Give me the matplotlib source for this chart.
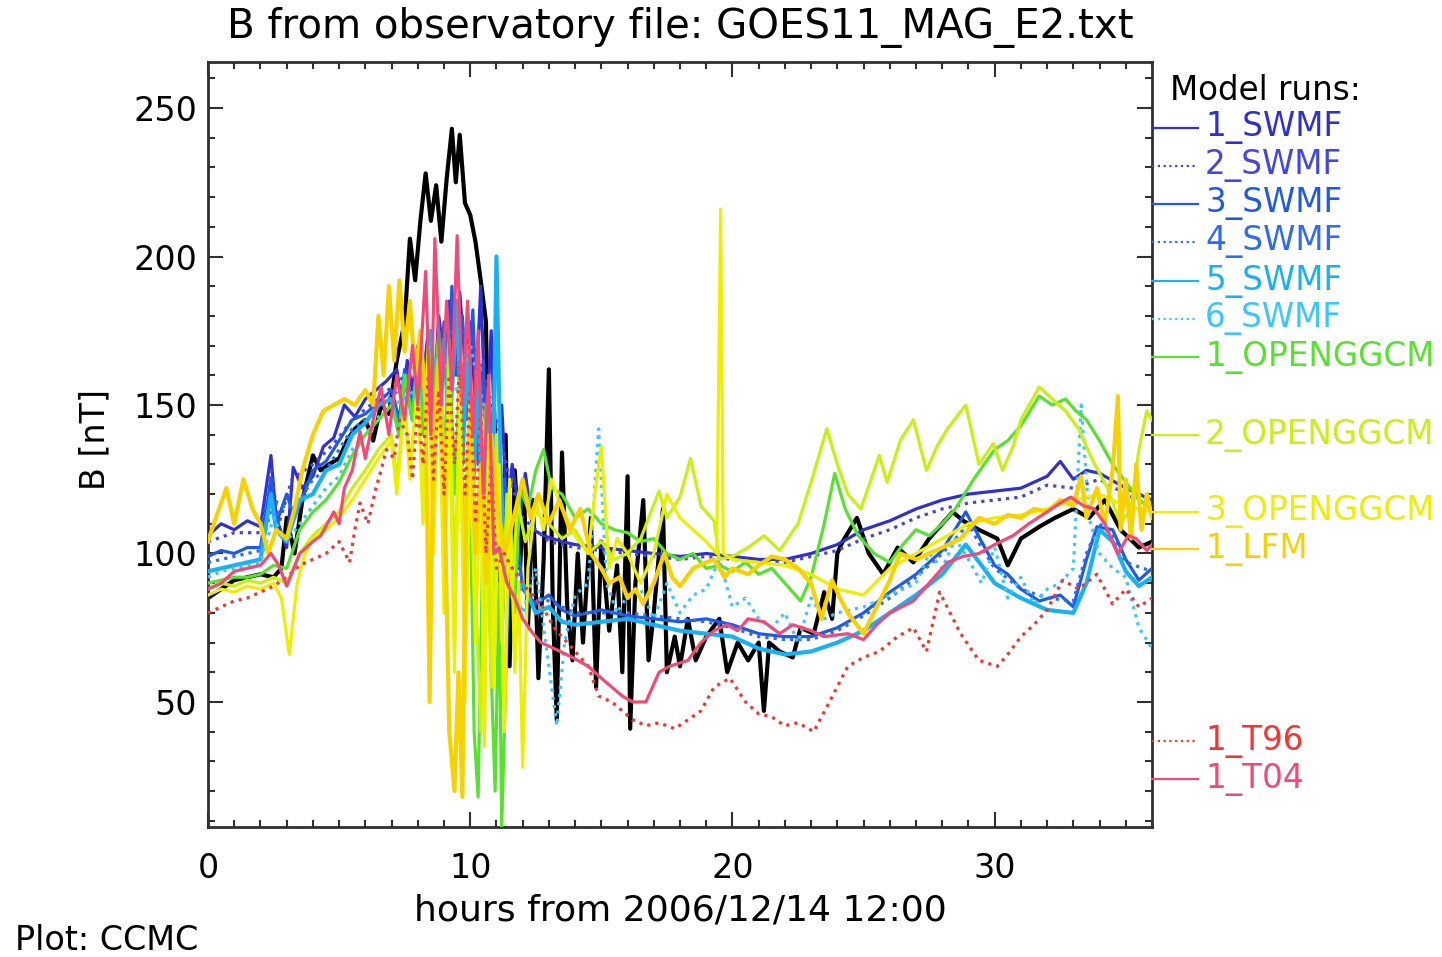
"""
GOES11 |B| vs model runs, 2006/12/14 storm (CCMC-style plot).
"""

import matplotlib
matplotlib.use("Agg")
import matplotlib.pyplot as plt
from matplotlib.lines import Line2D
from matplotlib.ticker import MultipleLocator

plt.rcParams.update({
    "font.family": ["DejaVu Sans"],
    "xtick.direction": "in",
    "ytick.direction": "in",
})

# ---- data: (hours, B [nT]) ----
OBS = [(0, 85), (0.5, 88), (1, 91), (1.5, 92), (2, 93), (2.5, 92), (2.8, 95), (3.0, 112), (3.3, 100),
       (3.6, 118), (4.0, 133), (4.3, 128), (4.6, 130), (5.0, 132), (5.3, 138), (5.6, 142), (6.0, 145),
       (6.3, 138), (6.6, 150), (6.9, 147), (7.2, 165), (7.5, 178), (7.7, 206), (7.9, 192), (8.1, 212),
       (8.3, 228), (8.5, 212), (8.7, 224), (8.9, 205), (9.1, 226), (9.3, 243), (9.45, 225), (9.6, 241),
       (9.8, 218), (10.0, 214), (10.2, 205), (10.4, 192), (10.6, 178), (10.75, 92), (10.9, 150),
       (11.05, 118), (11.2, 72), (11.35, 140), (11.5, 62), (11.7, 128), (11.9, 95), (12.05, 122),
       (12.2, 75), (12.4, 118), (12.6, 58), (12.8, 98), (13.0, 162), (13.15, 82), (13.3, 44), (13.5, 134),
       (13.7, 82), (13.9, 64), (14.1, 100), (14.3, 70), (14.6, 112), (14.8, 55), (15.0, 104), (15.3, 74),
       (15.6, 96), (15.8, 60), (16.0, 126), (16.1, 41), (16.3, 90), (16.6, 118), (16.8, 64), (17.0, 80),
       (17.35, 115), (17.5, 60), (17.8, 72), (18.0, 62), (18.3, 78), (18.6, 64), (19.0, 72), (19.5, 78),
       (19.8, 60), (20.2, 70), (20.6, 64), (21.0, 70), (21.2, 47), (21.4, 70), (21.8, 67), (22.3, 65),
       (22.6, 75), (23.1, 73), (23.5, 87), (23.8, 78), (24.0, 100), (24.2, 104), (24.75, 112), (25.2, 100),
       (25.75, 93), (26.3, 102), (26.9, 97), (27.5, 105), (28.0, 110), (28.4, 114), (28.8, 111),
       (29.4, 108), (30.1, 105), (30.5, 96), (31.0, 105), (31.7, 109), (32.3, 112), (33.0, 115),
       (33.6, 112), (34.2, 118), (34.8, 108), (35.5, 102), (36, 104)]

SWMF1 = [(0, 106), (0.5, 110), (1, 108), (1.5, 111), (2, 109), (2.4, 133), (2.6, 112), (3.0, 102),
         (3.25, 129), (3.6, 122), (4.0, 126), (4.4, 136), (4.8, 139), (5.2, 150), (5.6, 146), (6.0, 152),
         (6.4, 155), (6.8, 158), (7.2, 162), (7.4, 150), (7.6, 165), (7.8, 155), (8.0, 170), (8.2, 158),
         (8.4, 175), (8.6, 150), (8.8, 180), (9.0, 165), (9.2, 185), (9.4, 160), (9.6, 188), (9.8, 165),
         (10.0, 178), (10.2, 150), (10.4, 190), (10.6, 140), (10.8, 175), (11.0, 120), (11.2, 150),
         (11.4, 115), (11.6, 130), (11.9, 112), (12.1, 127), (12.4, 108), (12.8, 106), (13.5, 104),
         (14, 103), (15, 102), (16, 101), (17, 100), (18, 99), (19, 100), (20, 99), (21, 98), (22, 98),
         (23, 100), (24, 103), (25, 108), (26, 111), (27, 115), (28, 118), (29, 120), (30, 121),
         (31, 122), (32, 126), (32.5, 131), (33, 125), (33.5, 128), (34, 127), (35, 122), (36, 118)]

SWMF2 = [(0, 104), (1, 107), (2, 107), (2.4, 128), (2.7, 110), (3.2, 125), (4, 130), (4.8, 137),
         (5.5, 145), (6.2, 150), (7, 156), (7.8, 162), (8.4, 168), (9, 172), (9.5, 180), (10, 175),
         (10.5, 160), (11, 145), (11.5, 125), (12, 112), (13, 104), (14, 102), (15, 101), (16, 100),
         (17, 99), (18, 98), (19, 99), (20, 98), (21, 97), (22, 97), (23, 99), (24, 101), (25, 105),
         (26, 108), (27, 112), (28, 115), (29, 117), (30, 118), (31, 119), (32, 123), (33, 122),
         (34, 125), (35, 120), (36, 116)]

SWMF3 = [(0, 99), (0.5, 101), (1, 100), (1.5, 102), (2, 102), (2.4, 125), (2.6, 110), (3.0, 120),
         (3.3, 112), (3.7, 121), (4.0, 128), (4.5, 131), (5.0, 138), (5.5, 145), (6.0, 147), (6.5, 151),
         (7.0, 155), (7.3, 145), (7.5, 162), (7.8, 150), (8.0, 168), (8.2, 148), (8.5, 172), (8.7, 140),
         (9.0, 178), (9.15, 150), (9.3, 190), (9.5, 160), (9.7, 180), (9.9, 145), (10.1, 182),
         (10.3, 130), (10.5, 165), (10.7, 110), (10.9, 150), (11.1, 95), (11.3, 125), (11.5, 95),
         (11.8, 105), (12.0, 88), (12.5, 83), (13.0, 86), (13.5, 81), (14, 79), (15, 81), (16, 79),
         (17, 78), (18, 77), (19, 78), (20, 76), (21, 73), (22, 72), (23, 72), (24, 75), (25, 80),
         (26, 87), (27, 93), (28, 101), (28.9, 114), (29.5, 104), (30, 96), (30.5, 93), (31, 88),
         (31.7, 84), (32.5, 86), (33, 82), (33.5, 98), (33.9, 109), (34.5, 108), (35, 98), (35.5, 91),
         (36, 95)]

SWMF4 = [(0, 97), (1, 99), (2, 101), (2.5, 118), (3, 115), (3.5, 118), (4, 125), (4.5, 128), (5, 135),
         (5.5, 142), (6, 145), (6.5, 149), (7, 153), (7.5, 157), (8, 160), (8.5, 166), (9, 170),
         (9.5, 178), (10, 172), (10.5, 150), (11, 130), (11.5, 105), (12, 90), (12.5, 85), (13, 84),
         (13.5, 82), (14, 80), (15, 80), (16, 80), (17, 79), (18, 78), (19, 77), (20, 75), (21, 72),
         (22, 71), (23, 71), (24, 74), (25, 79), (26, 85), (27, 92), (28, 100), (29, 110), (29.5, 102),
         (30, 95), (31, 88), (32, 85), (33, 84), (33.5, 100), (34, 110), (34.5, 106), (35, 97), (36, 94)]

SWMF5 = [(0, 94), (0.5, 95), (1, 96), (1.5, 97), (2, 98), (2.4, 120), (2.6, 108), (3.0, 104),
         (3.5, 118), (4.0, 120), (4.5, 128), (5.0, 130), (5.5, 140), (6.0, 144), (6.5, 150), (7.0, 152),
         (7.3, 140), (7.5, 160), (7.8, 145), (8.0, 165), (8.3, 140), (8.5, 175), (8.7, 145), (9.0, 172),
         (9.2, 140), (9.5, 185), (9.7, 130), (9.9, 170), (10.1, 120), (10.3, 160), (10.5, 100),
         (10.7, 150), (10.85, 110), (11.0, 200), (11.15, 130), (11.3, 95), (11.5, 115), (11.7, 85),
         (12.0, 90), (12.5, 80), (13.0, 82), (13.5, 77), (14, 76), (15, 77), (16, 78), (17, 76), (18, 74),
         (19, 73), (20, 72), (21, 68), (22, 66), (23, 67), (24, 70), (25, 74), (26, 80), (27, 86),
         (28, 93), (28.9, 103), (29.5, 96), (30, 90), (31, 85), (32, 81), (33, 80), (33.5, 90), (34, 108),
         (34.5, 104), (35, 94), (35.5, 89), (36, 92)]

SWMF6 = [(0, 92), (0.5, 94), (1, 95), (1.5, 96), (2, 97), (2.5, 112), (3, 104), (3.5, 110), (4, 116),
         (4.5, 122), (5, 126), (5.5, 135), (6, 140), (6.5, 146), (7, 150), (7.5, 152), (8, 156),
         (8.5, 150), (9, 165), (9.5, 155), (10, 170), (10.5, 150), (11, 120), (11.5, 92), (12, 80),
         (12.5, 95), (13, 62), (13.3, 42), (13.6, 70), (14, 86), (14.5, 90), (14.9, 142), (15.2, 90),
         (15.6, 80), (16, 86), (16.5, 88), (17, 78), (17.5, 90), (18, 80), (18.5, 86), (19, 88),
         (19.5, 98), (20, 82), (20.5, 85), (21, 78), (21.5, 75), (22, 80), (22.5, 70), (23, 85),
         (23.5, 78), (24, 80), (25, 82), (26, 86), (27, 90), (27.5, 100), (28, 95), (28.5, 105), (29, 98),
         (29.5, 90), (30, 102), (30.5, 85), (31, 92), (31.5, 83), (32, 88), (32.5, 90), (33, 95),
         (33.3, 150), (33.6, 112), (34, 100), (34.5, 95), (35, 92), (35.5, 75), (36, 68)]

OPENGGCM1 = [(0, 90), (0.5, 91), (1, 92), (1.5, 92), (2, 93), (2.5, 96), (3, 95), (3.5, 108), (4, 114),
             (4.5, 118), (5, 124), (5.5, 133), (6, 140), (6.5, 145), (7.0, 150), (7.3, 140), (7.5, 160),
             (7.8, 145), (8.0, 168), (8.2, 140), (8.4, 170), (8.6, 150), (8.8, 175), (9.0, 130),
             (9.2, 172), (9.4, 120), (9.6, 160), (9.8, 80), (10.0, 120), (10.15, 40), (10.3, 18),
             (10.45, 90), (10.6, 150), (10.8, 60), (10.95, 20), (11.1, 90), (11.2, 8), (11.35, 55),
             (11.5, 110), (11.7, 80), (11.9, 122), (12.2, 115), (12.5, 128), (12.8, 135), (13.1, 122),
             (13.5, 120), (14, 112), (14.5, 115), (15, 110), (15.5, 108), (16, 107), (16.5, 104),
             (17, 105), (17.5, 100), (18, 98), (18.5, 100), (19, 95), (19.5, 96), (20, 94), (20.5, 97),
             (21, 93), (21.5, 95), (22, 90), (22.6, 84), (23, 92), (23.5, 110), (23.9, 127), (24.3, 115),
             (24.8, 106), (25.4, 100), (26, 97), (26.5, 103), (27, 108), (27.5, 106), (28, 110),
             (28.5, 115), (29.2, 125), (30, 135), (30.5, 138), (31, 143), (31.7, 153), (32.2, 150),
             (32.7, 152), (33.1, 148), (33.5, 145), (34, 138), (34.5, 130), (35, 124), (35.5, 118),
             (36, 115)]

OPENGGCM2 = [(0, 88), (0.5, 90), (1, 89), (1.5, 91), (2, 90), (2.5, 92), (3, 90), (3.5, 100), (4, 106),
             (4.5, 110), (5, 114), (5.5, 122), (6, 128), (6.5, 135), (7.0, 140), (7.2, 125), (7.5, 150),
             (7.7, 130), (8.0, 155), (8.2, 120), (8.4, 160), (8.6, 110), (8.8, 165), (9.0, 100),
             (9.2, 170), (9.4, 90), (9.6, 150), (9.8, 70), (10.0, 140), (10.2, 90), (10.4, 40),
             (10.6, 120), (10.8, 55), (11.0, 140), (11.2, 70), (11.4, 120), (11.6, 85), (11.8, 118),
             (12.1, 104), (12.5, 114), (13, 110), (13.5, 105), (14, 108), (14.5, 100), (15, 104),
             (15.5, 98), (16, 100), (16.5, 105), (17.2, 121), (17.5, 112), (18, 119), (18.4, 132),
             (18.8, 116), (19.3, 111), (19.5, 98), (20, 99), (20.6, 102), (21.2, 106), (21.8, 101),
             (22.5, 110), (23, 124), (23.6, 142), (24, 130), (24.4, 120), (24.9, 115), (25.6, 133),
             (25.9, 124), (26.4, 138), (26.9, 145), (27.4, 128), (27.8, 136), (28.2, 142), (28.9, 150),
             (29.4, 130), (29.95, 137), (30.3, 128), (30.7, 136), (31.0, 145), (31.7, 156), (32.2, 152),
             (32.7, 148), (33.2, 142), (33.7, 132), (34.3, 122), (34.8, 110), (35.2, 115), (35.5, 135),
             (35.8, 148), (36, 145)]

OPENGGCM3 = [(0, 86), (0.5, 88), (1, 87), (1.5, 89), (2, 88), (2.5, 90), (2.8, 85), (3.1, 66),
             (3.4, 90), (3.7, 100), (4, 105), (4.5, 108), (5, 112), (5.5, 118), (6, 125), (6.5, 132),
             (7, 138), (7.2, 120), (7.5, 150), (7.7, 125), (8.0, 158), (8.2, 110), (8.4, 170), (8.6, 100),
             (8.8, 165), (9.0, 80), (9.2, 150), (9.4, 60), (9.6, 155), (9.8, 50), (10.0, 135), (10.2, 70),
             (10.4, 125), (10.55, 35), (10.7, 140), (10.9, 55), (11.1, 130), (11.3, 40), (11.5, 125),
             (11.7, 60), (11.85, 90), (12.0, 28), (12.2, 95), (12.5, 118), (12.8, 108), (13.1, 125),
             (13.5, 115), (14, 106), (14.5, 100), (14.75, 120), (15.0, 136), (15.3, 95), (15.6, 105),
             (16, 100), (16.5, 90), (17, 100), (17.5, 120), (18, 112), (18.5, 108), (19, 104), (19.4, 100),
             (19.55, 216), (19.65, 100), (20, 98), (21, 97), (22, 96), (23, 93), (24, 88), (25, 86),
             (26, 95), (27, 100), (28, 105), (29, 110), (30, 112), (31, 113), (32, 115), (33, 118),
             (34, 120), (35, 116), (36, 114)]

LFM1 = [(0, 104), (0.3, 112), (0.7, 122), (1.0, 110), (1.35, 125), (1.7, 115), (2.0, 110), (2.3, 100),
        (2.6, 108), (3.0, 105), (3.3, 115), (3.6, 128), (4.0, 140), (4.4, 148), (4.8, 150), (5.2, 152),
        (5.6, 150), (6.0, 155), (6.3, 150), (6.5, 180), (6.7, 160), (6.9, 190), (7.1, 165), (7.3, 192),
        (7.5, 168), (7.7, 185), (7.9, 160), (8.1, 175), (8.3, 150), (8.45, 50), (8.6, 140), (8.8, 165),
        (9.0, 130), (9.2, 40), (9.4, 20), (9.55, 60), (9.7, 18), (9.85, 120), (10.0, 150), (10.2, 100),
        (10.4, 130), (10.6, 90), (10.8, 140), (11.0, 120), (11.3, 100), (11.6, 110), (12.0, 125),
        (12.3, 112), (12.6, 120), (13.0, 110), (13.4, 118), (13.8, 108), (14.2, 115), (14.6, 100),
        (15.0, 95), (15.3, 90), (15.7, 92), (16.0, 85), (16.3, 88), (16.6, 83), (17.0, 90), (17.4, 100),
        (17.7, 92), (18.0, 89), (18.5, 95), (19.0, 97), (19.3, 98), (19.7, 92), (20.0, 95), (20.6, 93),
        (21.0, 96), (21.5, 99), (22.0, 98), (22.5, 95), (23.0, 90), (23.4, 78), (23.8, 91), (24.1, 85),
        (24.4, 80), (25.0, 73), (25.5, 82), (26.0, 91), (26.4, 100), (27.0, 98), (27.5, 100), (28.0, 102),
        (28.7, 105), (29.4, 112), (30, 110), (30.5, 113), (31, 112), (31.5, 115), (32, 114), (32.5, 118),
        (33, 116), (33.3, 126), (33.5, 112), (33.9, 122), (34.2, 110), (34.5, 128), (34.7, 153),
        (34.8, 108), (35.0, 125), (35.2, 105), (35.4, 130), (35.6, 108), (35.8, 120), (36, 112)]

T96 = [(0, 80), (0.5, 82), (1, 84), (1.5, 85), (2, 87), (2.5, 89), (3, 92), (3.5, 96), (4, 98),
       (4.5, 100), (5, 104), (5.4, 97), (5.6, 108), (5.8, 117), (6.1, 110), (6.4, 122), (6.6, 128),
       (6.8, 135), (7.1, 132), (7.3, 145), (7.6, 140), (7.8, 125), (8.0, 150), (8.2, 130), (8.4, 160),
       (8.6, 125), (8.8, 155), (9.0, 120), (9.2, 160), (9.4, 130), (9.6, 165), (9.8, 120), (10.0, 155),
       (10.2, 110), (10.4, 150), (10.6, 100), (10.8, 130), (11.0, 95), (11.3, 100), (11.6, 95),
       (12.0, 90), (12.4, 85), (12.7, 83), (13.2, 75), (13.9, 68), (14.5, 62), (14.9, 52), (15.4, 50),
       (15.8, 47), (16.2, 44), (16.7, 42), (17.2, 43), (17.8, 41), (18.3, 44), (18.8, 47), (19.3, 55),
       (19.9, 58), (20.5, 50), (21.0, 46), (21.5, 45), (22.0, 42), (22.5, 43), (23.1, 40), (23.7, 50),
       (24.4, 62), (25.0, 65), (25.6, 67), (26.3, 72), (26.9, 75), (27.4, 67), (27.9, 87), (28.3, 80),
       (28.7, 73), (29.4, 64), (30.1, 62), (30.5, 66), (31.0, 72), (31.5, 76), (32.0, 81), (32.6, 91),
       (33.2, 88), (33.9, 93), (34.5, 83), (35.0, 88), (35.5, 82), (36, 85)]

T04 = [(0, 88), (0.5, 90), (1, 94), (1.5, 95), (2, 96), (2.4, 100), (2.7, 96), (3, 89), (3.5, 100),
       (4, 104), (4.3, 106), (4.8, 114), (5.0, 110), (5.2, 122), (5.5, 128), (5.8, 141), (6.0, 132),
       (6.3, 145), (6.6, 156), (6.9, 140), (7.2, 160), (7.5, 145), (7.8, 170), (8.0, 150), (8.3, 195),
       (8.5, 140), (8.65, 206), (8.9, 150), (9.1, 185), (9.3, 155), (9.5, 207), (9.7, 150), (9.9, 185),
       (10.1, 140), (10.3, 175), (10.5, 120), (10.7, 160), (10.9, 100), (11.1, 102), (11.4, 90),
       (11.7, 85), (12.0, 78), (12.4, 73), (12.7, 70), (13.2, 68), (13.9, 65), (14.5, 62), (15.0, 58),
       (15.8, 52), (16.2, 50), (16.7, 50), (17.2, 60), (17.6, 62), (18.3, 64), (18.8, 70), (19.3, 74),
       (19.8, 76), (20.2, 74), (20.6, 78), (21.2, 77), (21.8, 73), (22.3, 76), (23, 74), (23.5, 72),
       (24.4, 73), (25, 71), (25.5, 76), (26, 80), (26.9, 84), (27.5, 90), (28.2, 97), (28.8, 99),
       (29.4, 100), (30, 103), (30.7, 106), (31.3, 110), (32, 114), (32.5, 117), (32.9, 119),
       (33.4, 116), (33.8, 115), (34.2, 110), (34.7, 100), (35.1, 106), (35.4, 105), (35.8, 101),
       (36, 103)]

# name, series, colour, dotted?
MODELS = [
    ("1_SWMF", SWMF1, "#3030d0", False),
    ("2_SWMF", SWMF2, "#4646de", True),
    ("3_SWMF", SWMF3, "#1e5ae6", False),
    ("4_SWMF", SWMF4, "#2d6cf0", True),
    ("5_SWMF", SWMF5, "#18b2f4", False),
    ("6_SWMF", SWMF6, "#3cc6ff", True),
    ("1_OPENGGCM", OPENGGCM1, "#56e22e", False),
    ("2_OPENGGCM", OPENGGCM2, "#c8f010", False),
    ("3_OPENGGCM", OPENGGCM3, "#ecf000", False),
    ("1_LFM", LFM1, "#f8d200", False),
    ("1_T96", T96, "#f23535", True),
    ("1_T04", T04, "#f24a78", False),
]

# legend label heights (px from top of the 957 px image)
LEGEND_Y = [128, 166, 204, 242, 281, 319, 357, 435, 512, 549, 741, 779]

W, H = 1442, 957
fig = plt.figure(figsize=(W / 100, H / 100), dpi=100)
ax = fig.add_axes([208 / W, 1 - 827 / H, (1152 - 208) / W, (827 - 62) / H])

dotted = (0, (1, 1.6))

t, b = zip(*OBS)
ax.plot(t, b, color="black", lw=3.0, zorder=2)

for name, series, color, dots in MODELS:
    t, b = zip(*series)
    thick = 3.0 if name in ("5_SWMF", "1_LFM") else 2.3
    ax.plot(t, b, color=color, lw=thick, ls=dotted if dots else "-", zorder=3)

ax.set_xlim(0, 36)
ax.set_ylim(7.9, 265.5)
ax.set_xticks([0, 10, 20, 30])
ax.set_yticks([50, 100, 150, 200, 250])
ax.xaxis.set_minor_locator(MultipleLocator(1))
ax.yaxis.set_minor_locator(MultipleLocator(10))
ax.tick_params(which="both", top=True, right=True, color="#303030", labelcolor="black", width=1.5)
ax.tick_params(which="major", length=11, labelsize=24)
ax.tick_params(which="minor", length=5)
ax.tick_params(axis="x", which="major", pad=18)
ax.tick_params(axis="y", which="major", pad=8)
for sp in ax.spines.values():
    sp.set_linewidth(2)
    sp.set_color("#303030")

fig.text(680 / W, 1 - 28 / H, "B from observatory file: GOES11_MAG_E2.txt",
         ha="center", va="center", fontsize=29)
fig.text(680 / W, 1 - 910 / H, "hours from 2006/12/14 12:00",
         ha="center", va="center", fontsize=26)
fig.text(95 / W, 1 - 440 / H, "B [nT]", rotation=90,
         ha="center", va="center", fontsize=24)
fig.text(15 / W, 1 - 940 / H, "Plot: CCMC", ha="left", va="center", fontsize=24)

# model legend to the right of the frame
fig.text(1170 / W, 1 - 90 / H, "Model runs:", ha="left", va="center", fontsize=23.5)
for (name, _, color, dots), ypx in zip(MODELS, LEGEND_Y):
    yf = 1 - ypx / H
    fig.add_artist(Line2D([1152 / W, 1198 / W], [yf, yf], transform=fig.transFigure,
                          color=color, lw=1.6, ls=dotted if dots else "-"))
    fig.text(1205 / W, yf, name, color=color, ha="left", va="center", fontsize=23.5)

fig.savefig("out.png", dpi=100)
